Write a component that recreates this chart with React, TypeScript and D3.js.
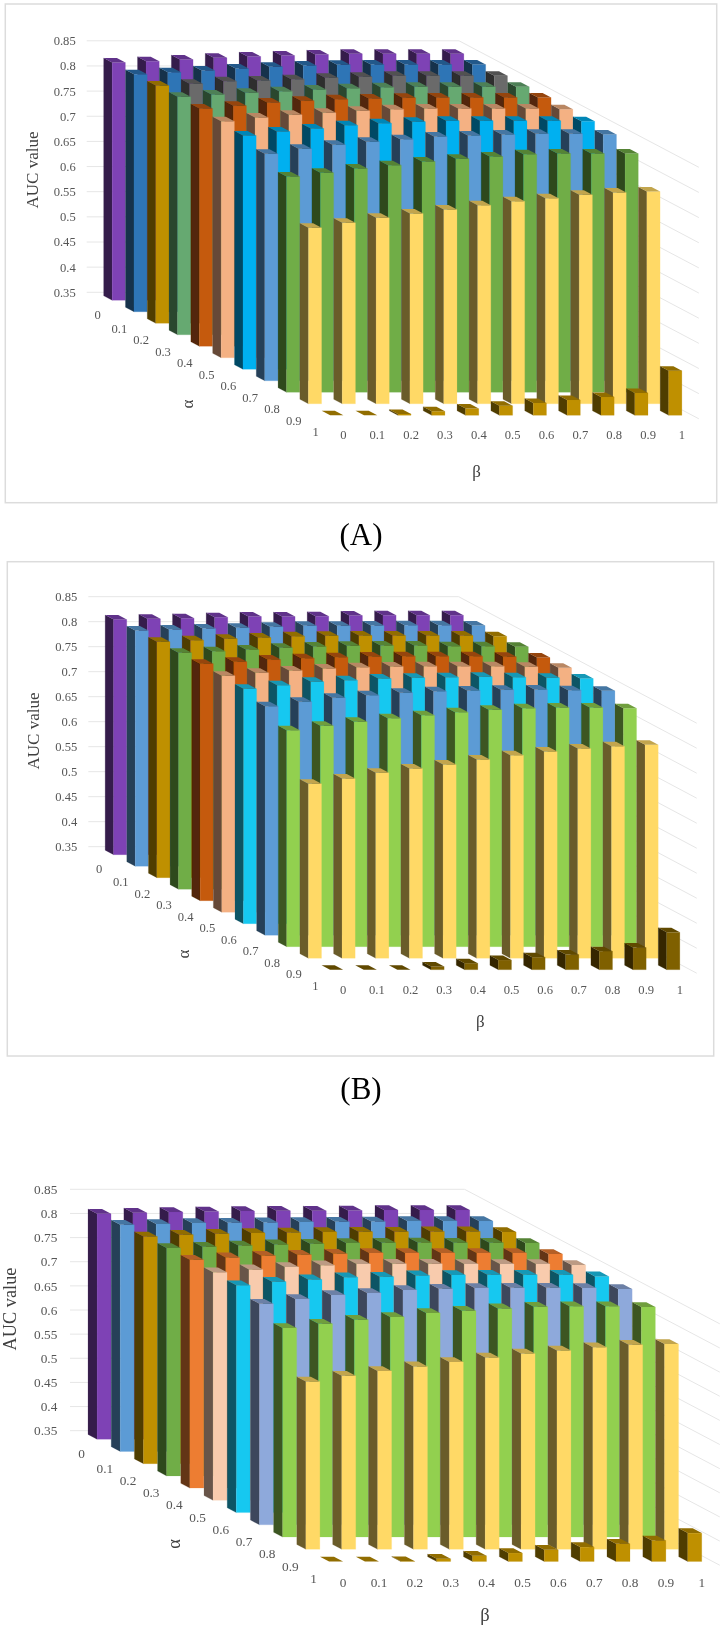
import React from "react";
import * as d3 from "d3";

const alphaLabels = ["0", "0.1", "0.2", "0.3", "0.4", "0.5", "0.6", "0.7", "0.8", "0.9", "1"];
const betaLabels = ["0", "0.1", "0.2", "0.3", "0.4", "0.5", "0.6", "0.7", "0.8", "0.9", "1"];
const valueTicks = [0.85, 0.8, 0.75, 0.7, 0.65, 0.6, 0.55, 0.5, 0.45, 0.4, 0.35];
const tickText = ["0.85", "0.8", "0.75", "0.7", "0.65", "0.6", "0.55", "0.5", "0.45", "0.4", "0.35"];

const aucA: number[][] = [
  [.8228, .8254, .8287, .8320, .8347, .8367, .8387, .8400, .8400, .8400, .8400],
  [.8224, .8264, .8297, .8337, .8370, .8397, .8410, .8416, .8416, .8416, .8416],
  [.8228, .8261, .8314, .8327, .8354, .8380, .8400, .8420, .8420, .8420, .8420],
  [.8231, .8277, .8310, .8344, .8377, .8403, .8423, .8430, .8430, .8430, .8430],
  [.8228, .8281, .8347, .8380, .8413, .8426, .8440, .8446, .8446, .8446, .8446],
  [.8204, .8277, .8330, .8370, .8410, .8443, .8456, .8456, .8456, .8456, .8443],
  [.8148, .8228, .8287, .8354, .8393, .8420, .8440, .8440, .8440, .8440, .8433],
  [.8012, .8112, .8191, .8251, .8304, .8357, .8377, .8397, .8410, .8410, .8397],
  [.7790, .7863, .7949, .8016, .8088, .8141, .8188, .8234, .8247, .8247, .8247],
  [.6998, .7098, .7197, .7283, .7363, .7449, .7529, .7588, .7654, .7701, .7721],
  [.35, .35, .3527, .358, .3633, .369, .3745, .3805, .3865, .3944, .4388],
];
const aucB: number[][] = [
  [.8203, .8217, .8230, .8250, .8263, .8263, .8270, .8283, .8290, .8290, .8290],
  [.8213, .8233, .8253, .8267, .8287, .8307, .8307, .8313, .8320, .8320, .8313],
  [.8217, .8250, .8277, .8303, .8330, .8337, .8343, .8343, .8343, .8343, .8330],
  [.8227, .8260, .8293, .8327, .8353, .8367, .8373, .8373, .8360, .8360, .8347],
  [.8237, .8277, .8323, .8350, .8370, .8383, .8390, .8390, .8390, .8377, .8363],
  [.8227, .8287, .8333, .8373, .8400, .8413, .8420, .8420, .8420, .8407, .8387],
  [.8197, .8270, .8337, .8370, .8403, .8417, .8430, .8437, .8430, .8417, .8403],
  [.8080, .8167, .8247, .8300, .8347, .8380, .8393, .8407, .8413, .8400, .8387],
  [.7830, .7917, .7997, .8070, .8130, .8190, .8237, .8270, .8283, .8283, .8270],
  [.6987, .7093, .7207, .7293, .7373, .7473, .7560, .7633, .7693, .7740, .7767],
  [.35, .35, .35, .3563, .3630, .3693, .3750, .3803, .3870, .3943, .4247],
];
const aucC: number[][] = [
  [.8170, .8190, .8204, .8218, .8225, .8232, .8232, .8239, .8246, .8246, .8246],
  [.8195, .8209, .8230, .8237, .8244, .8251, .8258, .8264, .8271, .8271, .8271],
  [.8207, .8242, .8262, .8276, .8290, .8297, .8304, .8304, .8311, .8311, .8297],
  [.8219, .8247, .8274, .8295, .8309, .8322, .8329, .8336, .8329, .8329, .8322],
  [.8231, .8279, .8313, .8334, .8355, .8369, .8369, .8369, .8369, .8369, .8348],
  [.8222, .8284, .8332, .8367, .8394, .8401, .8401, .8394, .8394, .8394, .8373],
  [.8206, .8282, .8330, .8372, .8385, .8413, .8420, .8427, .8427, .8427, .8392],
  [.8079, .8176, .8259, .8300, .8362, .8390, .8404, .8411, .8411, .8404, .8383],
  [.7829, .7918, .8001, .8057, .8139, .8188, .8236, .8271, .8278, .8278, .8264],
  [.6977, .7095, .7191, .7288, .7378, .7474, .7557, .7619, .7682, .7737, .7751],
  [.35, .35, .3505, .3557, .362, .3675, .3743, .3798, .3867, .3936, .4088],
];

const coloursA = ["#7E42B5", "#2E75B6", "#6B6B6B", "#66A971", "#C55A11", "#F4B183", "#00B0F0", "#5B9BD5", "#70AD47", "#FFD966", "#BF9000"];
const coloursB = ["#7E42B5", "#5B9BD5", "#BF9000", "#70AD47", "#C55A11", "#F4B183", "#19C8F0", "#5B9BD5", "#92D050", "#FFD966", "#7F6000"];
const coloursC = ["#7E42B5", "#5B9BD5", "#BF9000", "#70AD47", "#ED7D31", "#F8CBAD", "#19C8F0", "#8EA9DB", "#92D050", "#FFD966", "#BF9000"];
const goldCell = "#BF9000";

interface Layout {
  auc: number[][]; colours: string[]; oddCell?: boolean;
  cx: number; cy: number; stepB: number; stepAx: number; stepAy: number; pxPerUnit: number;
  tickRight: number; tickSize: number; alphaDy: number; betaDy: number;
  aucX: number; aucY: number; aucSize: number;
  alphaTitle: [number, number]; betaTitle: [number, number]; titleSize: number;
  frame?: [number, number, number, number]; caption?: [string, number, number];
}

const panels: Layout[] = [
  { auc: aucA, colours: coloursA, oddCell: true, cx: 86.7, cy: 292.3, stepB: 33.85, stepAx: 21.8, stepAy: 11.5, pxPerUnit: 503,
    tickRight: 75.7, tickSize: 12.6, alphaDy: 19, betaDy: 16, aucX: 32, aucY: 170, aucSize: 17,
    alphaTitle: [187.7, 404], betaTitle: [476.7, 471.7], titleSize: 17,
    frame: [5.3, 4, 716.7, 502.7], caption: ["(A)", 361, 534] },
  { auc: aucB, colours: coloursB, cx: 88.3, cy: 846.7, stepB: 33.67, stepAx: 21.64, stepAy: 11.5, pxPerUnit: 500,
    tickRight: 77.3, tickSize: 12.6, alphaDy: 18, betaDy: 16, aucX: 33.3, aucY: 731, aucSize: 17,
    alphaTitle: [183.7, 954], betaTitle: [480.3, 1021.7], titleSize: 17,
    frame: [7.3, 561.7, 713.7, 1056], caption: ["(B)", 361, 1088] },
  { auc: aucC, colours: coloursC, cx: 70, cy: 1430.7, stepB: 35.87, stepAx: 23.2, stepAy: 12.23, pxPerUnit: 482.8,
    tickRight: 57.3, tickSize: 13.3, alphaDy: 19, betaDy: 17, aucX: 9.5, aucY: 1309, aucSize: 18.3,
    alphaTitle: [174, 1544], betaTitle: [485, 1615], titleSize: 18.5 },
];

const serif = "'Liberation Serif', 'Times New Roman', serif";
const GRID = "#e6e6e6";
const TXT = "#565656";
const poly = (pts: [number, number][]) => pts.map((p) => p.join(",")).join(" ");

function Panel({ p }: { p: Layout }) {
  const n = 11;
  const band = (labels: string[], len: number) =>
    d3.scaleBand<string>().domain(labels).range([0, len]).paddingInner(0.61).paddingOuter(0.305);
  const bX = band(betaLabels, n * p.stepB);
  const aX = band(alphaLabels, n * p.stepAx);
  const aY = band(alphaLabels, n * p.stepAy);
  const h = d3.scaleLinear().domain([0.35, 0.85]).range([0, (0.5) * p.pxPerUnit]);
  const wallR = p.cx + n * p.stepB;
  const dx = n * p.stepAx, dy = n * p.stepAy;
  const shade = (c: string, t: number) => d3.interpolateRgb(c, "#000")(t);

  const bars: React.ReactNode[] = [];
  alphaLabels.forEach((al, i) => {
    betaLabels.forEach((bl, j) => {
      const v = p.auc[i][j];
      const x = p.cx + aX(al)! + bX(bl)!;
      const base = p.cy + aY(al)!;
      const top = base - h(v);
      const w = bX.bandwidth(), ddx = aX.bandwidth(), ddy = aY.bandwidth();
      const col = p.oddCell && i === 2 && j === 0 ? goldCell : p.colours[i];
      const key = `${i}-${j}`;
      bars.push(
        <g key={key}>
          {h(v) > 0.2 && (
            <polygon fill={shade(col, 0.58)} stroke={shade(col, 0.58)} strokeWidth={0.2} points={poly([[x, top], [x + ddx, top + ddy], [x + ddx, base + ddy], [x, base]])} />
          )}
          {h(v) > 0.2 && (
            <polygon fill={col} stroke={col} strokeWidth={0.2} points={poly([[x + ddx, top + ddy], [x + ddx + w, top + ddy], [x + ddx + w, base + ddy], [x + ddx, base + ddy]])} />
          )}
          <polygon fill={shade(col, 0.24)} points={poly([[x, top], [x + w, top], [x + w + ddx, top + ddy], [x + ddx, top + ddy]])} />
        </g>
      );
    });
  });

  return (
    <g>
      {p.frame && (
        <rect x={p.frame[0]} y={p.frame[1]} width={p.frame[2] - p.frame[0]} height={p.frame[3] - p.frame[1]}
          fill="#fff" stroke="#dcdcdc" strokeWidth={1.5} />
      )}
      {valueTicks.map((t, k) => {
        const y = p.cy - h(t);
        return (
          <g key={t}>
            <polyline points={poly([[p.cx, y], [wallR, y], [wallR + dx, y + dy]])} fill="none" stroke={GRID} strokeWidth={1} />
            <text x={p.tickRight} y={y} dy="0.35em" textAnchor="end" fontSize={p.tickSize} fill={TXT} fontFamily={serif}>{tickText[k]}</text>
          </g>
        );
      })}
      {bars}
      {alphaLabels.map((al, i) => (
        <text key={al} x={p.cx + aX(al)! + aX.bandwidth() / 2} y={p.cy + aY(al)! + aY.bandwidth() / 2 + p.alphaDy - (i === 0 ? 2 : 0)} dy="0.35em"
          textAnchor="middle" fontSize={p.tickSize} fill={TXT} fontFamily={serif}>{al}</text>
      ))}
      {betaLabels.map((bl) => (
        <text key={bl} x={p.cx + dx + bX(bl)! + bX.bandwidth() / 2} y={p.cy + dy + p.betaDy} dy="0.35em"
          textAnchor="middle" fontSize={p.tickSize} fill={TXT} fontFamily={serif}>{bl}</text>
      ))}
      <text transform={`translate(${p.aucX},${p.aucY}) rotate(-90)`} dy="0.35em" textAnchor="middle" fontSize={p.aucSize} fill="#404040" fontFamily={serif}>AUC value</text>
      <text transform={`translate(${p.alphaTitle[0]},${p.alphaTitle[1]}) rotate(-90)`} dy="0.3em" textAnchor="middle" fontSize={p.titleSize} fill="#404040" fontFamily={serif}>α</text>
      <text x={p.betaTitle[0]} y={p.betaTitle[1]} dy="0.3em" textAnchor="middle" fontSize={p.titleSize} fill="#404040" fontFamily={serif}>β</text>
      {p.caption && (
        <text x={p.caption[1]} y={p.caption[2]} dy="0.35em" textAnchor="middle" fontSize={31} fill="#000" fontFamily={serif}>{p.caption[0]}</text>
      )}
    </g>
  );
}

export default function App() {
  return (
    <svg width={722} height={1629} viewBox="0 0 722 1629"
      style={{ position: "absolute", left: 0, top: 0, display: "block", background: "#fff" }}>
      <defs>
        <filter id="soft" filterUnits="userSpaceOnUse" x={0} y={0} width={722} height={1629}>
          <feGaussianBlur stdDeviation={0.45} />
        </filter>
      </defs>
      <g filter="url(#soft)">
        {panels.map((p, i) => <Panel key={i} p={p} />)}
      </g>
    </svg>
  );
}
